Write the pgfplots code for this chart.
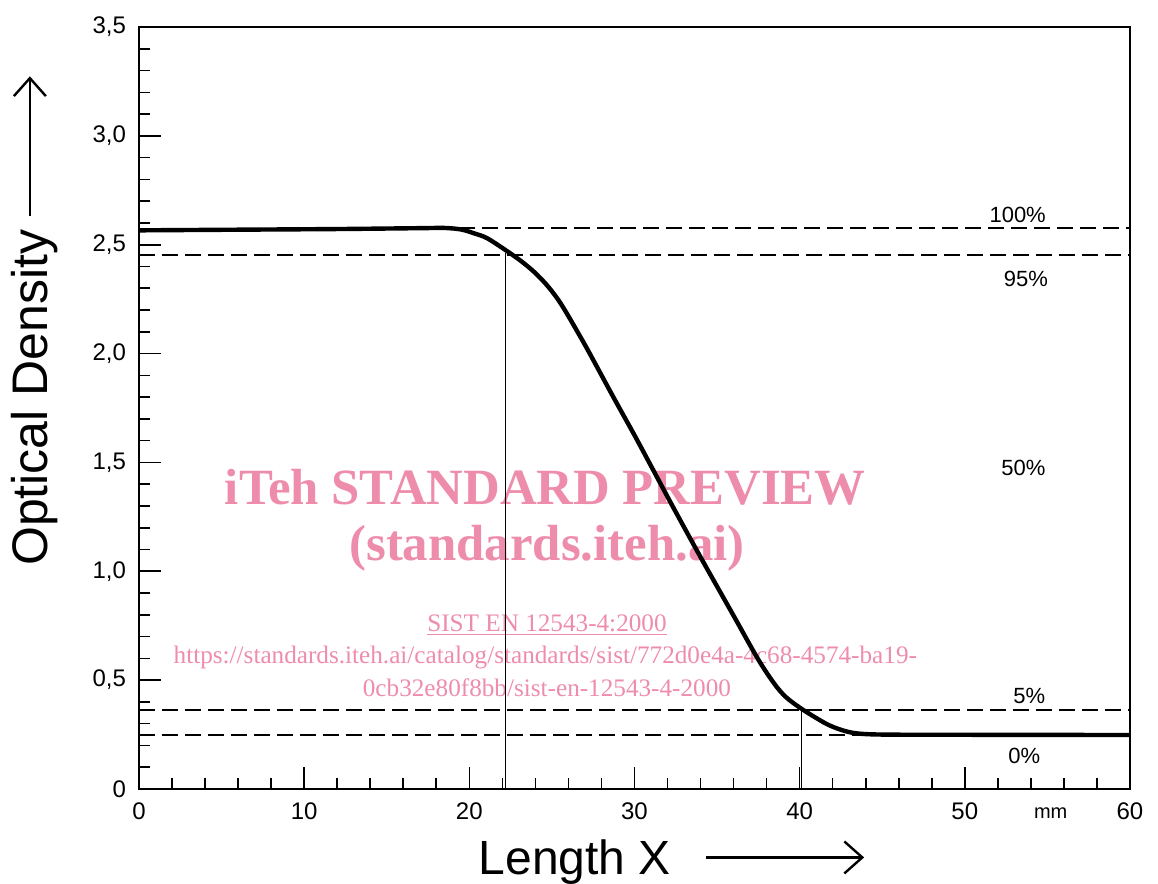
\documentclass[border=0pt]{standalone}
\usepackage{fontspec}
\setmainfont{Liberation Sans}
\newfontfamily\wmfont{Liberation Serif}
\usepackage{graphicx}
\usepackage{pgfplots}
\pgfplotsset{compat=1.18}
\usetikzlibrary{arrows.meta}
\definecolor{wm}{RGB}{238,140,172}

\pgfplotstableread{
x y
0 2.566
6 2.569
12 2.572
17 2.576
18.5 2.577
19.5 2.570
20.3 2.552
21.1 2.529
22.45 2.462
23.3 2.415
24.05 2.366
24.8 2.305
25.6 2.222
27 2.04
28.7 1.803
30 1.625
31 1.484
32.3 1.30
34 1.065
36 0.796
37.5 0.594
38.5 0.48
39.2 0.42
40.2 0.364
41.6 0.30
42.5 0.272
43.4 0.256
45 0.250
50 0.249
60 0.248
}\curvedata

\begin{document}
\begin{tikzpicture}
\path[use as bounding box] (-69.5pt,-47.5pt) rectangle (509.5pt,394.5pt);
\begin{axis}[
  at={(0pt,0pt)}, anchor=south west,
  scale only axis, width=495.5pt, height=381pt,
  xmin=0, xmax=60, ymin=0, ymax=3.5,
  clip=false,
  axis line style={line width=1.25pt},
  xtick={0,10,20,30,40,50,60},
  xticklabels={0,10,20,30,40,50,60},
  ytick={0,0.5,1,1.5,2,2.5,3,3.5},
  yticklabels={0,{0,5},{1,0},{1,5},{2,0},{2,5},{3,0},{3,5}},
  minor x tick num=4, minor y tick num=4,
  tick pos=left, tick align=inside,
  major tick length=11pt, minor tick length=5.5pt,
  every tick/.style={black, line width=0.8pt},
  tick label style={font=\fontsize{12}{14}\selectfont},
  xticklabel style={yshift=-3.5pt},
  yticklabel style={xshift=-3pt},
  xlabel={Length X\hspace{17pt}\tikz[baseline=-0.36em]\draw[line width=1.2pt,-{Straight Barb[length=9pt,width=16pt,line width=1.2pt]}] (0,0)--(79pt,0);},
  xlabel style={font=\fontsize{24}{28}\selectfont, at={(axis description cs:0.538,-0.1125)}, anchor=base},
  ylabel={Optical Density\hspace{6pt}\tikz[baseline=-0.36em]\draw[line width=1.2pt,-{Straight Barb[length=9pt,width=16pt,line width=1.2pt]}] (0,0)--(70pt,0);},
  ylabel style={font=\fontsize{25}{30}\selectfont, at={(axis description cs:-0.105,0.615)}, anchor=center},
]
% watermark
\node[text=wm, font=\wmfont\bfseries\fontsize{25.4}{30}\selectfont] at (axis cs:24.6,1.387) {iTeh STANDARD PREVIEW};
\node[text=wm, font=\wmfont\bfseries\fontsize{25.4}{30}\selectfont] at (axis cs:24.7,1.107) {(standards.iteh.ai)};
\node[text=wm, font=\wmfont\fontsize{12.6}{15}\selectfont] at (axis cs:24.7,0.753) {\underline{SIST EN 12543-4:2000}};
\node[text=wm, font=\wmfont\fontsize{12.6}{15}\selectfont] at (axis cs:24.6,0.606) {https://standards.iteh.ai/catalog/standards/sist/772d0e4a-4c68-4574-ba19-};
\node[text=wm, font=\wmfont\fontsize{12.6}{15}\selectfont] at (axis cs:24.7,0.464) {0cb32e80f8bb/sist-en-12543-4-2000};
% reference lines
\addplot[black, line width=1pt, dash pattern=on 8pt off 3.5pt] coordinates {(18,2.575) (60,2.575)};
\addplot[black, line width=1pt, dash pattern=on 8pt off 3.5pt] coordinates {(0,2.455) (60,2.455)};
\addplot[black, line width=1pt, dash pattern=on 8pt off 3.5pt] coordinates {(0,0.365) (60,0.365)};
\addplot[black, line width=1pt, dash pattern=on 8pt off 3.5pt] coordinates {(0,0.25) (44,0.25)};
\addplot[black, line width=0.8pt] coordinates {(22.2,0) (22.2,2.46)};
\addplot[black, line width=0.8pt] coordinates {(40.1,0) (40.1,0.365)};
% curve
\addplot[black, line width=2.2pt, smooth, tension=0.5] table[x=x,y=y] {\curvedata};
% labels
\node[font=\fontsize{11}{13}\selectfont] at (axis cs:53.2,2.635) {100\%};
\node[font=\fontsize{11}{13}\selectfont] at (axis cs:53.7,2.344) {95\%};
\node[font=\fontsize{11}{13}\selectfont] at (axis cs:53.55,1.476) {50\%};
\node[font=\fontsize{11}{13}\selectfont] at (axis cs:53.9,0.427) {5\%};
\node[font=\fontsize{11}{13}\selectfont] at (axis cs:53.6,0.152) {0\%};
\node[font=\fontsize{10}{12}\selectfont] at (axis cs:55.2,-0.11) {mm};
\end{axis}
\end{tikzpicture}
\end{document}
